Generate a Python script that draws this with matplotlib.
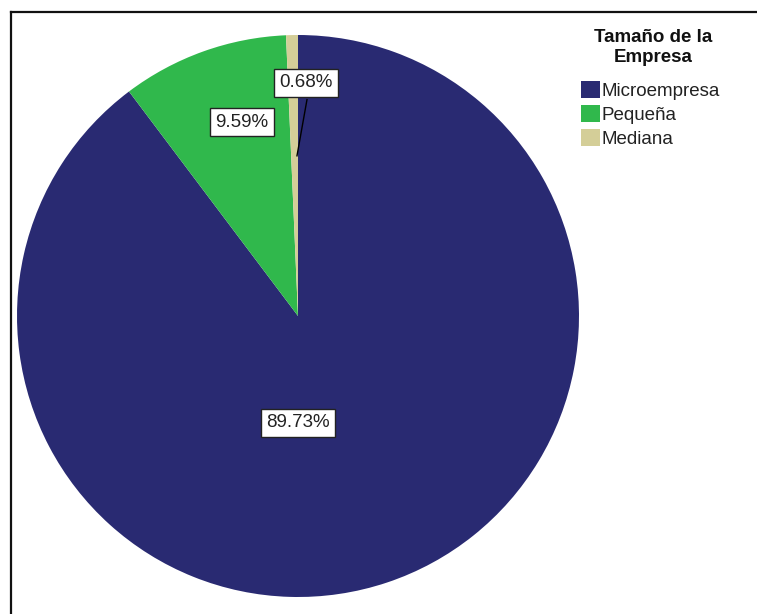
import matplotlib.pyplot as plt
from matplotlib.lines import Line2D
from matplotlib.patches import Patch
import numpy as np

plt.rcParams["font.family"] = ["Liberation Sans", "DejaVu Sans"]

# datos del gráfico
categorias = ["Microempresa", "Pequeña", "Mediana"]
porcentajes = [89.73, 9.59, 0.68]
colores = ["#292A72", "#30B84C", "#D4CE98"]
titulo_leyenda = "Tamaño de la\nEmpresa"

W, H = 757, 614
fig = plt.figure(figsize=(W / 100, H / 100), dpi=100)

# marco recortado (solo se ven el borde superior e izquierdo)
fig.add_artist(Line2D([10.5 / W, 10.5 / W], [0, 1 - 12 / H], color="#111111", lw=1.6,
                      transform=fig.transFigure))
fig.add_artist(Line2D([10.5 / W, 1], [1 - 12 / H, 1 - 12 / H], color="#111111", lw=1.6,
                      transform=fig.transFigure))

# ejes del pastel: centro (298, 316), radio 281 px
cx, cy, r = 298, 316, 281
ax = fig.add_axes([(cx - r) / W, (H - cy - r) / H, 2 * r / W, 2 * r / H])
wedges, _ = ax.pie(porcentajes, colors=colores, startangle=90, counterclock=False,
                   radius=1.0, wedgeprops=dict(linewidth=0))
ax.set_xlim(-1, 1)
ax.set_ylim(-1, 1)
ax.axis("off")

caja = dict(boxstyle="square,pad=0.28", facecolor="white", edgecolor="#222222", linewidth=1.0)

# etiquetas de porcentaje
pos_etiquetas = [(0.0, -0.38), (-0.20, 0.69), (0.03, 0.83)]
for p, (x, y) in zip(porcentajes, pos_etiquetas):
    ax.text(x, y, f"{p:.2f}%", ha="center", va="center", fontsize=13.5,
            color="#222222", bbox=caja, zorder=5)

# línea guía para el sector pequeño
w = wedges[2]
ang = np.deg2rad(w.theta1 + 0.15 * (w.theta2 - w.theta1))
ax.plot([0.57 * np.cos(ang), 0.032], [0.57 * np.sin(ang), 0.77], color="black", lw=1.0, zorder=4)

# leyenda
fig.text(653 / W, 1 - 47.5 / H, titulo_leyenda, ha="center", va="center", fontsize=13.5,
         fontweight="bold", linespacing=1.17, multialignment="center", color="#111111")
handles = [Patch(facecolor=c, edgecolor="none") for c in colores]
leg = fig.legend(handles, categorias, loc="upper left",
                 bbox_to_anchor=(581 / W, 1 - 81 / H), frameon=False, fontsize=13.5,
                 handlelength=1.0, handleheight=1.0, borderpad=0,
                 handletextpad=0.1, labelspacing=0.27, borderaxespad=0)
for t in leg.get_texts():
    t.set_color("#222222")

fig.savefig("out.png", dpi=100)
